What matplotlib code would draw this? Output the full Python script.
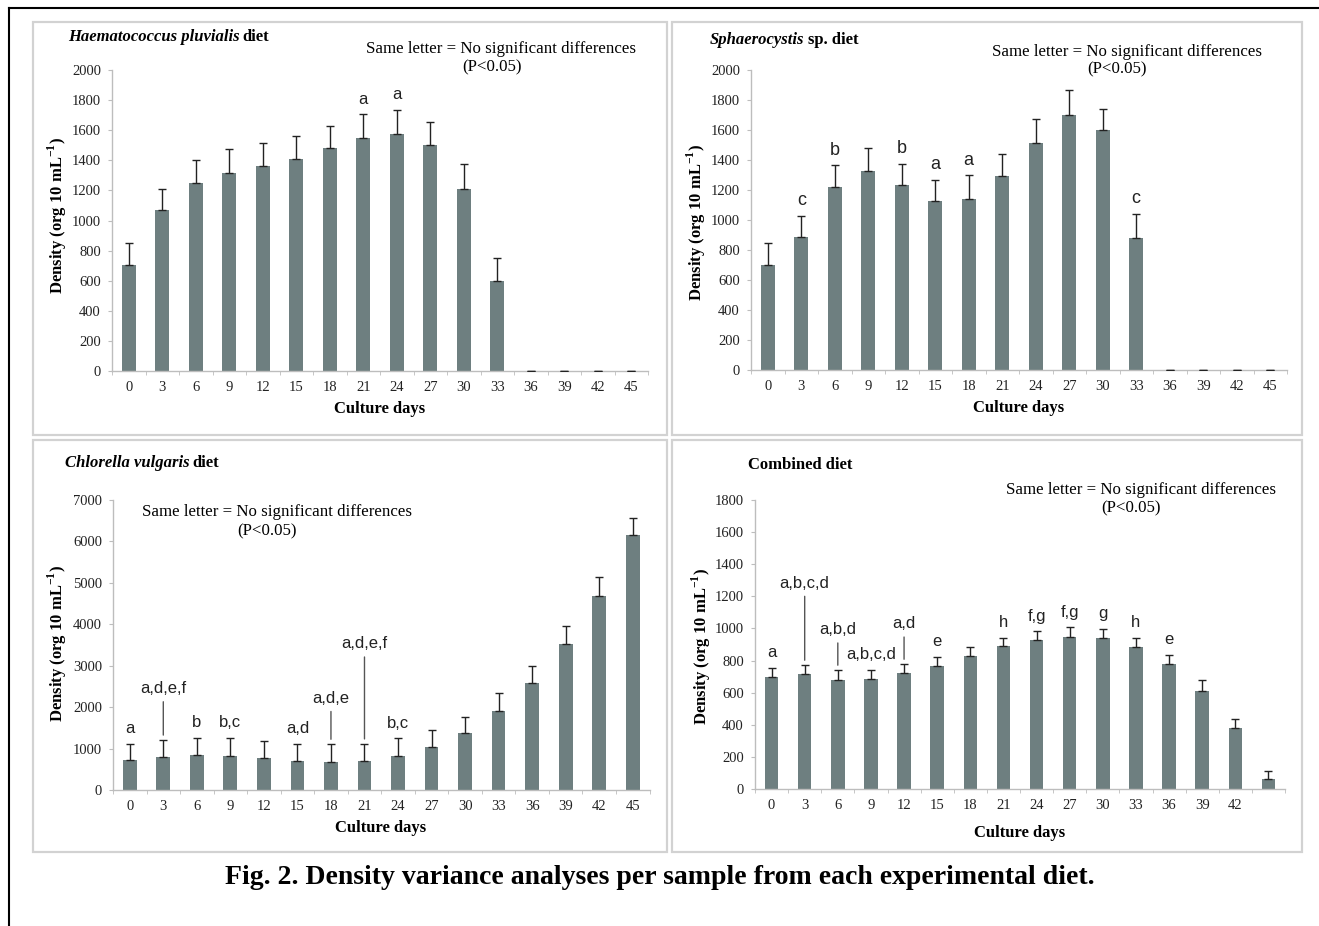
import numpy as np
from matplotlib import pyplot as plt
from matplotlib.patches import Rectangle

plt.rcParams['font.family'] = ['Liberation Serif', 'DejaVu Serif']
plt.rcParams['mathtext.fontset'] = 'custom'
plt.rcParams['mathtext.rm'] = 'Liberation Serif'
plt.rcParams['mathtext.bf'] = 'Liberation Serif:bold'

W, H = 1319, 926

# Culture days (x categories)
days = [0, 3, 6, 9, 12, 15, 18, 21, 24, 27, 30, 33, 36, 39, 42, 45]

# Haematococcus pluvialis diet
haem_density = [702, 1070, 1247, 1318, 1362, 1406, 1484, 1548, 1577, 1499, 1211, 598, 0, 0, 0, 0]
haem_error = [151, 141, 153, 159, 155, 155, 144, 157, 157, 155, 164, 151, 0, 0, 0, 0]
haem_letters = ['', '', '', '', '', '', '', 'a', 'a', '', '', '', '', '', '', '']

# Sphaerocystis sp. diet
sphae_density = [698, 887, 1220, 1326, 1231, 1124, 1142, 1293, 1514, 1698, 1601, 882, 0, 0, 0, 0]
sphae_error = [149, 142, 144, 153, 144, 144, 155, 150, 158, 167, 137, 160, 0, 0, 0, 0]
sphae_letters = ['', 'c', 'b', '', 'b', 'a', 'a', '', '', '', '', 'c', '', '', '', '']

# Chlorella vulgaris diet
chlor_density = [716, 793, 840, 817, 778, 700, 684, 700, 825, 1027, 1377, 1913, 2582, 3531, 4690, 6144]
chlor_error = [388, 412, 420, 443, 412, 412, 420, 412, 419, 412, 396, 420, 412, 420, 444, 412]
chlor_letters = ['a', 'a,d,e,f', 'b', 'b,c', '', 'a,d', 'a,d,e', 'a,d,e,f', 'b,c', '', '', '', '', '', '', '']

# Combined diet
comb_density = [696, 716, 680, 684, 720, 767, 829, 889, 927, 947, 939, 887, 781, 612, 379, 64]
comb_error = [56, 55, 60, 56, 57, 58, 56, 54, 54, 60, 56, 56, 56, 64, 60, 50]
comb_letters = ['a', 'a,b,c,d', 'a,b,d', 'a,b,c,d', 'a,d', 'e', '', 'h', 'f,g', 'f,g', 'g', 'h', 'e', '', '', '']
comb_ticklabels = [str(d) for d in days[:-1]] + ['']

BAR = '#6e7f80'
AXC = '#bdbdbd'
NOTE = 'Same letter = No significant differences'
NOTE_SIZE = 12.2
LAB_SIZE = 12


def px_box(left, right, top, bottom):
    return [left / W, 1 - bottom / H, (right - left) / W, (bottom - top) / H]


def fx(x):
    return x / W


def fy(y):
    return 1 - y / H


def draw_panel(ax, density, error, letters, ymax, ystep, ticklabels, letter_size, raised=None):
    raised = raised or {}
    x = np.arange(len(days))
    err = np.array(error)
    ax.bar(x, density, width=0.41, color=BAR, zorder=2)
    ax.errorbar(x, density, yerr=[np.zeros_like(err), err], fmt='none',
                ecolor='#222222', elinewidth=1, capsize=3, capthick=1, zorder=3)
    ax.set_xlim(-0.5, len(days) - 0.5)
    ax.set_ylim(0, ymax)
    ax.set_yticks(np.arange(0, ymax + 1, ystep))
    ax.set_xticks(x)
    ax.set_xticklabels(ticklabels)
    ax.set_xticks(np.arange(-0.5, len(days)), minor=True)
    ax.tick_params(axis='x', which='major', length=0, pad=7, labelsize=10.5, colors='#222222')
    ax.tick_params(axis='x', which='minor', length=3, color=AXC, direction='out')
    ax.tick_params(axis='y', length=3, pad=5, labelsize=10.5, color=AXC, labelcolor='#222222')
    for s in ('top', 'right'):
        ax.spines[s].set_visible(False)
    for s in ('left', 'bottom'):
        ax.spines[s].set_color(AXC)
        ax.spines[s].set_linewidth(1)

    tops = np.array(density) + err
    for i, lab in enumerate(letters):
        if not lab:
            continue
        if i in raised:
            gap, ln = 3.6, raised[i]
            ax.annotate('', xy=(i, tops[i]), xytext=(0, gap + ln), textcoords='offset points',
                        arrowprops=dict(arrowstyle='-', shrinkA=0, shrinkB=gap, color='#555555', lw=1))
            off = gap + ln + 9.5
        else:
            off = 11
        ax.annotate(lab, xy=(i, tops[i]), xytext=(0, off), textcoords='offset points',
                    ha='center', va='center', fontsize=letter_size,
                    family=['Liberation Sans', 'DejaVu Sans'], color='#222222')


def title(fig, x, y, italic, rest, size=12):
    renderer = fig.canvas.get_renderer()
    if italic:
        t = fig.text(fx(x), fy(y), italic, ha='left', va='center', fontsize=size,
                     weight='bold', style='italic')
        bb = t.get_window_extent(renderer)
        x = bb.x1 + 3
    fig.text(fx(x), fy(y), rest, ha='left', va='center', fontsize=size, weight='bold')


fig = plt.figure(figsize=(W / 100, H / 100), dpi=100)

# outer frame lines
fig.add_artist(plt.Line2D([fx(9), 1], [fy(8), fy(8)], color='black', lw=1.5))
fig.add_artist(plt.Line2D([fx(9), fx(9)], [fy(8), 0], color='black', lw=1.5))

# panel frames
for (l, t, r, b) in [(33, 22, 667, 435), (672, 22, 1302, 435), (33, 440, 667, 852), (672, 440, 1302, 852)]:
    fig.add_artist(Rectangle((fx(l), fy(b)), (r - l) / W, (b - t) / H, transform=fig.transFigure,
                             fill=False, edgecolor='#d2d2d2', lw=1.6))

ylabel = r'Density (org 10 mL$^{\mathbf{-1}}$)'

# Panel 1
ax1 = fig.add_axes(px_box(112, 648, 70, 371))
draw_panel(ax1, haem_density, haem_error, haem_letters, 2000, 200, [str(d) for d in days], 12)
title(fig, 68, 37, 'Haematococcus pluvialis', 'diet')
fig.text(fx(501), fy(49), NOTE, ha='center', va='center', fontsize=NOTE_SIZE)
fig.text(fx(492), fy(67), '(P<0.05)', ha='center', va='center', fontsize=NOTE_SIZE)
fig.text(fx(57), fy(215), ylabel, rotation=90, ha='center', va='center', fontsize=LAB_SIZE, weight='bold')
fig.text(fx(380), fy(409), 'Culture days', ha='center', va='center', fontsize=LAB_SIZE, weight='bold')

# Panel 2
ax2 = fig.add_axes(px_box(751, 1287, 70, 370))
draw_panel(ax2, sphae_density, sphae_error, sphae_letters, 2000, 200, [str(d) for d in days], 13)
title(fig, 710, 40, 'Sphaerocystis', 'sp. diet')
fig.text(fx(1127), fy(52), NOTE, ha='center', va='center', fontsize=NOTE_SIZE)
fig.text(fx(1117), fy(69), '(P<0.05)', ha='center', va='center', fontsize=NOTE_SIZE)
fig.text(fx(696), fy(222), ylabel, rotation=90, ha='center', va='center', fontsize=LAB_SIZE, weight='bold')
fig.text(fx(1019), fy(408), 'Culture days', ha='center', va='center', fontsize=LAB_SIZE, weight='bold')

# Panel 3
ax3 = fig.add_axes(px_box(113, 649.5, 500, 790))
draw_panel(ax3, chlor_density, chlor_error, chlor_letters, 7000, 1000, [str(d) for d in days], 12,
           raised={1: 24, 6: 20, 7: 59})
title(fig, 65, 463, 'Chlorella vulgaris', 'diet')
fig.text(fx(277), fy(512), NOTE, ha='center', va='center', fontsize=NOTE_SIZE)
fig.text(fx(267), fy(531), '(P<0.05)', ha='center', va='center', fontsize=NOTE_SIZE)
fig.text(fx(57), fy(643), ylabel, rotation=90, ha='center', va='center', fontsize=LAB_SIZE, weight='bold')
fig.text(fx(381), fy(828), 'Culture days', ha='center', va='center', fontsize=LAB_SIZE, weight='bold')

# Panel 4
ax4 = fig.add_axes(px_box(755, 1285, 500, 789))
draw_panel(ax4, comb_density, comb_error, comb_letters, 1800, 200, comb_ticklabels, 12,
           raised={1: 46, 2: 16, 4: 16})
title(fig, 748, 465, None, 'Combined diet')
fig.text(fx(1141), fy(490), NOTE, ha='center', va='center', fontsize=NOTE_SIZE)
fig.text(fx(1131), fy(508), '(P<0.05)', ha='center', va='center', fontsize=NOTE_SIZE)
fig.text(fx(701), fy(646), ylabel, rotation=90, ha='center', va='center', fontsize=LAB_SIZE, weight='bold')
fig.text(fx(1020), fy(833), 'Culture days', ha='center', va='center', fontsize=LAB_SIZE, weight='bold')

fig.text(fx(660), fy(877), 'Fig. 2. Density variance analyses per sample from each experimental diet.',
         ha='center', va='center', fontsize=20, weight='bold')

fig.savefig('out.png', dpi=100)
